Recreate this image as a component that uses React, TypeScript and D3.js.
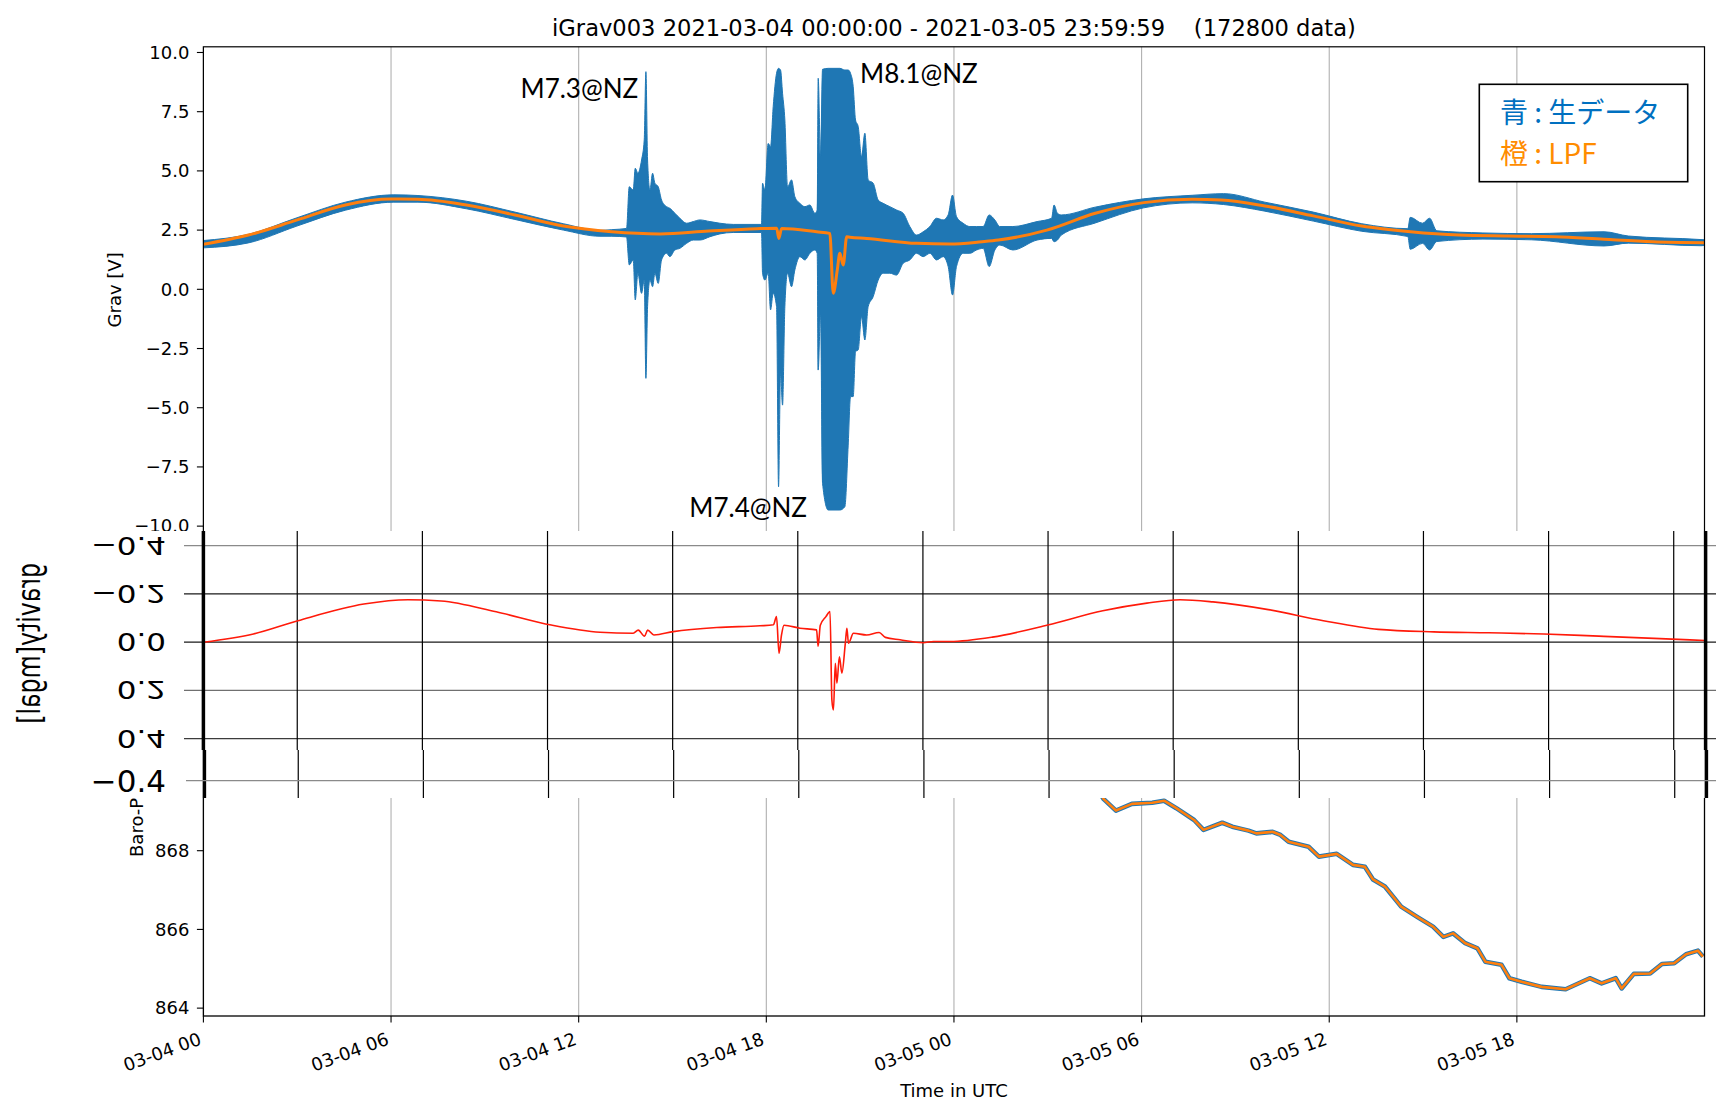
import React from "react";
import * as d3 from "d3";

// 生データ (上下の包絡線) : 時間は 2021-03-04 00:00 UTC からの経過時間[h]
const gravHours = [0, 1.44, 2.99, 4.54, 6.09, 6.86, 8.41, 9.96, 11.51, 12.68, 13.06, 13.53, 13.617, 13.745, 13.809, 13.894, 14.011, 14.096, 14.15, 14.203, 14.278, 14.363, 14.437, 14.544, 14.65, 14.81, 14.917, 15.077, 15.236, 15.45, 15.663, 15.876, 16.196, 16.515, 16.942, 17.847, 17.879, 17.954, 18.06, 18.135, 18.22, 18.327, 18.391, 18.455, 18.519, 18.593, 18.679, 18.806, 18.913, 19.073, 19.233, 19.392, 19.552, 19.627, 19.659, 19.734, 19.798, 19.979, 20.352, 20.511, 20.618, 20.693, 20.778, 20.853, 20.938, 21.044, 21.151, 21.257, 21.417, 21.577, 21.737, 21.95, 22.163, 22.376, 22.589, 22.803, 23.016, 23.229, 23.442, 23.655, 23.815, 23.954, 24.081, 24.294, 24.508, 24.721, 24.934, 25.126, 25.307, 25.467, 25.883, 26.657, 27.122, 27.2, 27.31, 27.432, 28.517, 30.067, 31.617, 32.624, 33.941, 35.491, 37.04, 38.513, 38.59, 38.98, 39.21, 39.44, 40.914, 42.464, 44.789, 45.564, 47.888, 47.99];
const gravUpper = [2.06, 2.32, 3.02, 3.68, 3.99, 3.96, 3.72, 3.26, 2.77, 2.49, 2.52, 2.57, 4.33, 4.19, 5.11, 4.9, 5.46, 6.31, 9.19, 5.46, 4.19, 4.9, 4.48, 4.33, 3.77, 3.49, 3.42, 3.21, 3.0, 2.79, 2.86, 2.93, 2.86, 2.79, 2.74, 2.74, 4.48, 4.19, 6.16, 6.02, 7.71, 9.12, 9.33, 9.26, 8.28, 7.15, 4.33, 4.62, 3.91, 3.63, 3.49, 3.56, 3.21, 3.35, 8.91, 5.6, 9.29, 9.33, 9.33, 9.26, 9.26, 9.12, 8.56, 7.15, 6.87, 5.6, 6.59, 4.62, 4.48, 3.77, 3.63, 3.49, 3.35, 3.21, 2.65, 2.29, 2.43, 2.65, 3.0, 2.93, 3.14, 3.98, 3.07, 2.79, 2.65, 2.65, 2.65, 3.14, 2.93, 2.65, 2.65, 2.86, 3.0, 3.56, 3.21, 3.14, 3.47, 3.82, 3.97, 4.04, 3.68, 3.26, 2.77, 2.56, 3.04, 2.79, 3.0, 2.47, 2.38, 2.35, 2.43, 2.25, 2.1, 2.09];
const gravLower = [1.75, 1.96, 2.67, 3.34, 3.68, 3.68, 3.4, 2.95, 2.5, 2.24, 2.24, 2.21, 1.03, 1.24, -0.45, 0.68, -0.17, 0.39, -3.76, -0.73, 0.39, 0.11, 0.68, 0.25, 1.24, 1.52, 1.38, 1.66, 1.73, 1.94, 2.08, 2.08, 2.22, 2.34, 2.4, 2.4, 0.68, 0.39, 0.68, -0.87, -0.17, -0.73, -8.34, -3.55, -4.89, -0.73, 0.68, 0.11, 0.82, 1.38, 1.24, 1.52, 1.66, 1.52, -3.41, -1.02, -8.19, -9.32, -9.32, -9.18, -6.58, -4.53, -4.53, -2.63, -2.56, -1.16, -2.14, -0.73, -0.31, 0.39, 0.68, 0.68, 0.6, 1.1, 1.24, 1.52, 1.38, 1.52, 1.24, 1.38, 0.96, -0.24, 0.96, 1.52, 1.52, 1.66, 1.73, 0.96, 1.66, 1.87, 1.66, 2.08, 2.15, 2.01, 2.08, 2.29, 2.8, 3.44, 3.65, 3.58, 3.3, 2.88, 2.45, 2.23, 1.69, 1.94, 1.66, 2.02, 2.12, 2.09, 1.83, 1.95, 1.84, 1.85];

// LPF
const lpfHours = [0, 1.44, 3.0, 4.54, 6.0, 6.86, 8.41, 9.96, 11.51, 13.06, 14.6, 16.16, 17.7, 18.33, 18.4, 18.49, 19.61, 20.03, 20.14, 20.27, 20.35, 20.46, 20.57, 20.67, 21.21, 22.81, 23.87, 24.9, 25.42, 26.97, 28.52, 30.07, 31.62, 32.55, 33.94, 35.49, 37.04, 38.6, 40.15, 41.69, 43.24, 44.79, 46.35, 47.99];
const lpfValues = [1.9, 2.29, 2.93, 3.56, 3.81, 3.8, 3.56, 3.14, 2.67, 2.43, 2.34, 2.46, 2.56, 2.58, 2.15, 2.57, 2.43, 2.36, -0.17, 0.82, 1.52, 1.03, 2.22, 2.2, 2.15, 1.94, 1.91, 2.01, 2.08, 2.5, 3.21, 3.66, 3.8, 3.77, 3.52, 3.1, 2.67, 2.43, 2.29, 2.25, 2.22, 2.11, 2.01, 1.97];

// 気圧
const baroHours = [28.7, 28.79, 29.18, 29.69, 30.34, 30.72, 31.11, 31.68, 31.98, 32.58, 32.9, 33.42, 33.67, 34.19, 34.44, 34.7, 35.34, 35.67, 36.24, 36.76, 37.14, 37.4, 37.78, 38.3, 38.81, 39.32, 39.65, 39.96, 40.35, 40.74, 40.99, 41.51, 41.76, 42.15, 42.79, 43.56, 44.33, 44.71, 45.16, 45.35, 45.74, 46.26, 46.64, 47.03, 47.41, 47.79, 47.95];
const baroValues = [869.42, 869.31, 869.02, 869.19, 869.22, 869.27, 869.08, 868.78, 868.53, 868.71, 868.61, 868.51, 868.44, 868.48, 868.4, 868.23, 868.1, 867.85, 867.92, 867.64, 867.59, 867.27, 867.09, 866.58, 866.32, 866.07, 865.81, 865.9, 865.65, 865.52, 865.18, 865.1, 864.76, 864.67, 864.54, 864.48, 864.76, 864.63, 864.76, 864.5, 864.87, 864.88, 865.12, 865.14, 865.37, 865.46, 865.31];

// 重なった gravity[mgal] 図 (上下反転)
const overlayHours = [0, 1.6, 3.02, 5.13, 6.54, 7.6, 9.36, 11.12, 12.68, 13.74, 13.9, 14.1, 14.2, 14.4, 15.02, 16.41, 17.79, 18.22, 18.32, 18.4, 18.48, 18.56, 19.07, 19.6, 19.65, 19.72, 19.9, 20.03, 20.09, 20.14, 20.2, 20.25, 20.33, 20.41, 20.52, 20.57, 20.62, 20.78, 21.2, 21.6, 21.8, 22.27, 23.01, 23.34, 23.87, 25.22, 26.99, 28.75, 30.16, 31.22, 32.27, 34.04, 35.8, 37.56, 39.33, 41.09, 42.85, 44.61, 46.37, 48];
const overlayValues = [0, -0.034, -0.089, -0.158, -0.176, -0.171, -0.126, -0.071, -0.041, -0.037, -0.05, -0.025, -0.05, -0.03, -0.044, -0.061, -0.068, -0.072, -0.106, 0.046, -0.03, -0.07, -0.058, -0.051, 0.017, -0.07, -0.106, -0.127, 0.239, 0.281, 0.087, 0.17, 0.06, 0.128, 0.004, -0.058, 0.004, -0.037, -0.03, -0.04, -0.02, -0.01, 0.002, -0.003, -0.003, -0.021, -0.071, -0.13, -0.162, -0.176, -0.167, -0.135, -0.089, -0.053, -0.043, -0.039, -0.034, -0.025, -0.016, -0.007];
const overlayGridHours = [3, 7, 11, 15, 19, 23, 27, 31, 35, 39, 43, 47];

const gravTicks = [10, 7.5, 5, 2.5, 0, -2.5, -5, -7.5, -10];
const baroTicks = [864, 866, 868];
const overlayTicks = [-0.4, -0.2, 0, 0.2, 0.4];

const quakeLabels = ["M7.3@NZ", "M8.1@NZ", "M7.4@NZ"];
const quakeAt = [[520.5, 98.3], [860, 82.7], [689.3, 516.7]];

const layout = {
  left: 203.4, right: 1704.5,
  top1: 46.8, bottom1: 533,
  top2: 600, bottom2: 1016,
  ovTop: 531, ovFlip: 750, ovBottom: 798,
};
const overlayLineColors = ["#8a8a8a", "#1a1a1a", "#1a1a1a", "#707070", "#3c3c3c"];
const mpl = "DejaVu Sans";

const t0 = Date.UTC(2021, 2, 4, 0, 0, 0);
const toDate = (h: number) => new Date(t0 + h * 3600e3);
const minus = (s: string) => s.replace("-", "\u2212");

export default function App() {
  const x = d3.scaleUtc()
    .domain([toDate(0), new Date(Date.UTC(2021, 2, 5, 23, 59, 59))])
    .range([layout.left, layout.right]);
  const yGrav = d3.scaleLinear().domain([-10.29, 10.24]).range([layout.bottom1, layout.top1]);
  const yBaro = d3.scaleLinear().domain([863.8, 874.37]).range([layout.bottom2, layout.top2]);
  const xo = d3.scaleLinear().domain([0, 48]).range([203.4, 1705]);
  const yo = d3.scaleLinear().domain([-0.4, 0.4]).range([545.7, 738.7]);

  const rawPath = d3.area<number>()
    .x(i => x(toDate(gravHours[i])))
    .y0(i => yGrav(gravLower[i]))
    .y1(i => yGrav(gravUpper[i]))
    .curve(d3.curveMonotoneX)(d3.range(gravHours.length));
  const lpfPath = d3.line<number>()
    .x(i => x(toDate(lpfHours[i])))
    .y(i => yGrav(lpfValues[i]))
    .curve(d3.curveMonotoneX)(d3.range(lpfHours.length));
  const baroPath = d3.line<number>()
    .x(i => x(toDate(baroHours[i])))
    .y(i => yBaro(baroValues[i]))(d3.range(baroHours.length));
  const overlayPath = d3.line<number>()
    .x(i => xo(overlayHours[i]))
    .y(i => yo(overlayValues[i]))
    .curve(d3.curveMonotoneX)(d3.range(overlayHours.length));

  const xTicks = x.ticks(d3.utcHour.every(6)!);
  const fmt = d3.utcFormat("%m-%d %H");
  const { left, right, top1, bottom1, top2, bottom2, ovTop, ovFlip, ovBottom } = layout;

  return (
    <svg width={1729} height={1103} style={{ position: "absolute", left: 0, top: 0 }} fontFamily={mpl}>
      <defs>
        <clipPath id="clipTop"><rect x={left} y={top1} width={right - left} height={bottom1 - top1} /></clipPath>
        <clipPath id="clipBottom"><rect x={left} y={top2} width={right - left} height={bottom2 - top2} /></clipPath>
        <clipPath id="clipFlip"><rect x={left} y={ovTop} width={1706 - left} height={ovFlip - ovTop} /></clipPath>
        <clipPath id="clipAbove"><rect x={0} y={0} width={1729} height={ovTop} /></clipPath>
      </defs>
      <rect width={1729} height={1103} fill="white" />

      <text x={(left + right) / 2} y={36} fontSize={22.6} textAnchor="middle" style={{ whiteSpace: "pre" }}>
        iGrav003 2021-03-04 00:00:00 - 2021-03-05 23:59:59    (172800 data)
      </text>

      {/* 上段: Grav */}
      <g>
        {xTicks.map((t, i) => (
          <line key={i} x1={x(t)} x2={x(t)} y1={top1} y2={bottom1} stroke="#b0b0b0" strokeWidth={1.1} />
        ))}
        <g clipPath="url(#clipTop)">
          <path d={rawPath!} fill="#1f77b4" stroke="#1f77b4" strokeWidth={1} />
          <path d={lpfPath!} fill="none" stroke="#ff7f0e" strokeWidth={3} />
        </g>
        <rect x={left} y={top1} width={right - left} height={bottom1 - top1} fill="none" stroke="black" strokeWidth={1.2} />
        <g clipPath="url(#clipAbove)">
          {gravTicks.map(v => (
            <g key={v} transform={`translate(${left},${yGrav(v)})`}>
              <line x1={-6.5} x2={0} stroke="black" strokeWidth={1.1} />
              <text x={-14} dy="0.35em" fontSize={18} textAnchor="end">{minus(v.toFixed(1))}</text>
            </g>
          ))}
        </g>
        <text transform={`translate(120.7,${(top1 + bottom1) / 2}) rotate(-90)`} fontSize={18} textAnchor="middle">Grav [V]</text>
        {quakeLabels.map((s, i) => (
          <text key={s} x={quakeAt[i][0]} y={quakeAt[i][1]} fontFamily="Lato" fontSize={26}>{s}</text>
        ))}
        <rect x={1479.3} y={84.3} width={208.4} height={97.4} fill="white" stroke="black" strokeWidth={1.6} />
        <text x={1500} y={123} fontFamily="Noto Sans CJK JP" fontSize={28} fill="#0070c0" style={{ whiteSpace: "pre" }}>青 : 生データ</text>
        <text x={1500} y={163.5} fontFamily="Noto Sans CJK JP" fontSize={28} fill="#ff8c00" style={{ whiteSpace: "pre" }}>橙 : LPF</text>
      </g>

      {/* 下段: 気圧 */}
      <g>
        {xTicks.map((t, i) => (
          <line key={i} x1={x(t)} x2={x(t)} y1={top2} y2={bottom2} stroke="#b0b0b0" strokeWidth={1.1} />
        ))}
        <g clipPath="url(#clipBottom)">
          <path d={baroPath!} fill="none" stroke="#1f77b4" strokeWidth={4.6} strokeLinejoin="round" />
          <path d={baroPath!} fill="none" stroke="#ff7f0e" strokeWidth={2.6} strokeLinejoin="round" />
        </g>
        <rect x={left} y={top2} width={right - left} height={bottom2 - top2} fill="none" stroke="black" strokeWidth={1.3} />
        {baroTicks.map(v => (
          <g key={v} transform={`translate(${left},${yBaro(v)})`}>
            <line x1={-6.5} x2={0} stroke="black" strokeWidth={1.1} />
            <text x={-14} dy="0.35em" fontSize={18} textAnchor="end">{v}</text>
          </g>
        ))}
        <text transform={`translate(143,857) rotate(-90)`} fontSize={18}>Baro-P</text>
        {xTicks.map((t, i) => (
          <g key={i}>
            <line x1={x(t)} x2={x(t)} y1={bottom2} y2={bottom2 + 6.5} stroke="black" strokeWidth={1.1} />
            <text transform={`translate(${x(t) - 1},1044) rotate(-20)`} fontSize={18} textAnchor="end">{fmt(t)}</text>
          </g>
        ))}
        <text x={(left + right) / 2} y={1097} fontSize={18} textAnchor="middle">Time in UTC</text>
      </g>

      {/* 重なった画像: gravity[mgal] (上下反転) */}
      <g>
        <rect x={0} y={ovTop} width={1729} height={ovBottom - ovTop} fill="white" />
        {overlayTicks.map((v, i) => (
          <g key={v}>
            <line x1={184} x2={1716} y1={yo(v)} y2={yo(v)} stroke={overlayLineColors[i]} strokeWidth={1.2} />
            <text transform={`translate(166,${yo(v)}) scale(1,-0.82)`} dy="0.36em" fontSize={31} textAnchor="end">
              {minus(v.toFixed(1))}
            </text>
          </g>
        ))}
        {overlayGridHours.map(h => (
          <g key={h}>
            <line x1={xo(h)} x2={xo(h)} y1={ovTop} y2={ovFlip} stroke="black" strokeWidth={1.2} />
            <line x1={xo(h) + 1} x2={xo(h) + 1} y1={ovFlip} y2={ovBottom} stroke="black" strokeWidth={1.2} />
          </g>
        ))}
        <path d={overlayPath!} fill="none" stroke="#ff1a0a" strokeWidth={1.6} clipPath="url(#clipFlip)" />
        <line x1={203.4} x2={203.4} y1={ovTop} y2={ovFlip} stroke="black" strokeWidth={3.5} />
        <line x1={1705.6} x2={1705.6} y1={ovTop} y2={ovFlip} stroke="black" strokeWidth={3.5} />
        <line x1={204.4} x2={204.4} y1={ovFlip} y2={ovBottom} stroke="black" strokeWidth={3.5} />
        <line x1={1706.4} x2={1706.4} y1={ovFlip} y2={ovBottom} stroke="black" strokeWidth={3.5} />
        <line x1={186} x2={1716} y1={780.7} y2={780.7} stroke="#8a8a8a" strokeWidth={1.2} />
        <text x={166} y={780.7} dy="0.36em" fontSize={31} textAnchor="end">{minus((-0.4).toFixed(1))}</text>
        <text transform="translate(40,563) scale(1,-0.74) rotate(-90)" fontSize={32}>gravity[mgal]</text>
      </g>
    </svg>
  );
}
